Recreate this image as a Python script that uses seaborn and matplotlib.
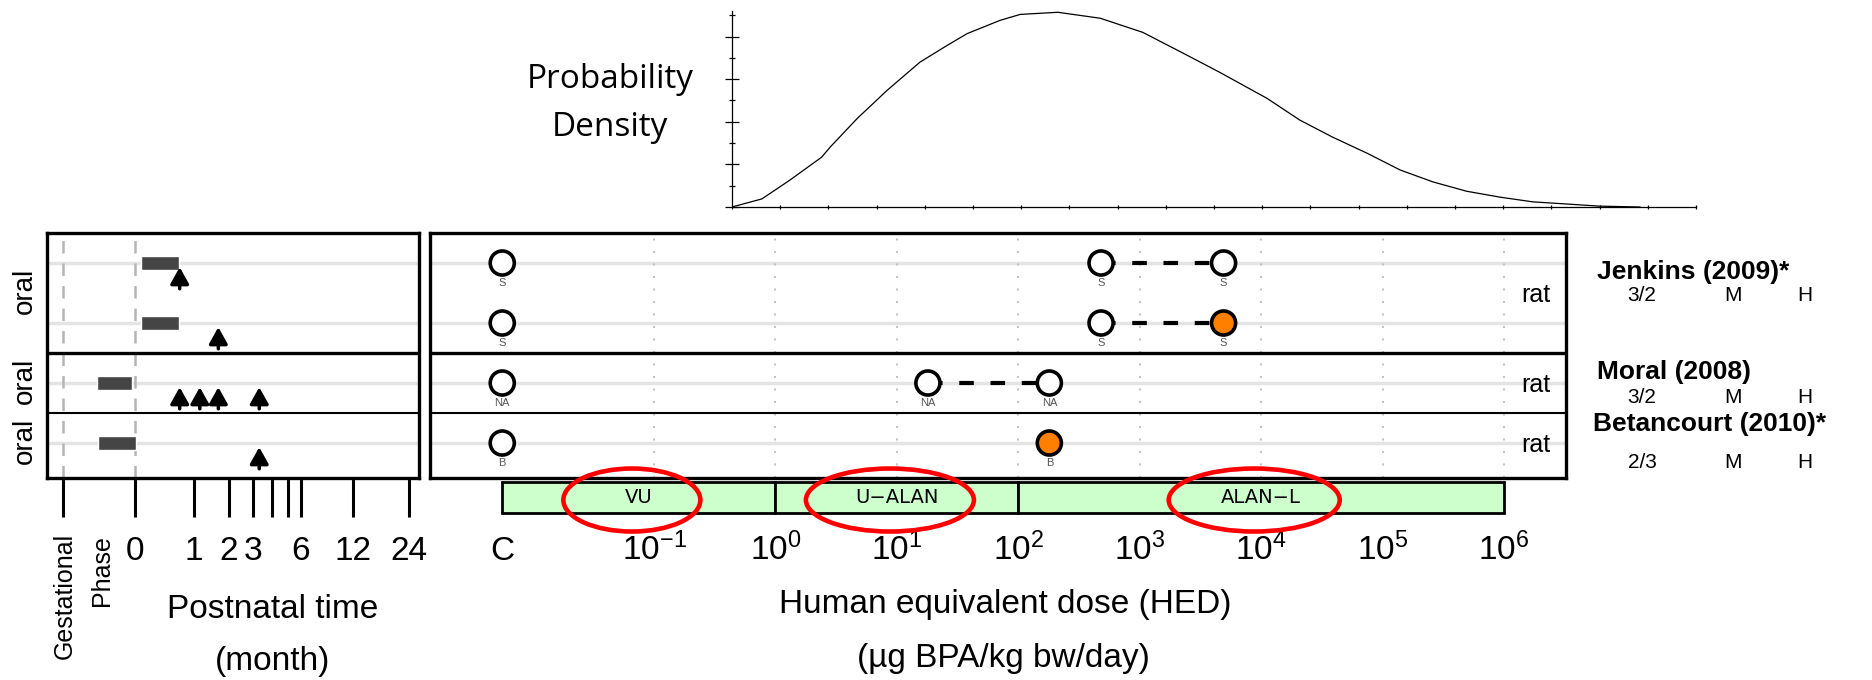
import numpy as np
import pandas as pd
import matplotlib
matplotlib.use('Agg')
import matplotlib.pyplot as plt
from matplotlib.patches import Ellipse
from matplotlib.ticker import NullLocator, MultipleLocator
from matplotlib.transforms import blended_transform_factory
import seaborn as sns

# ---------------- data ----------------
# probability density curve (arbitrary units)
dens_x = [0.0, 0.31, 0.60, 0.93, 1.02, 1.30, 1.61, 1.95, 2.23, 2.44,
          2.78, 2.99, 3.38, 3.82, 4.26, 4.68, 5.06, 5.55, 5.89, 6.23,
          6.59, 6.93, 7.27, 7.62, 7.97, 8.31, 8.66, 9.00, 9.42]
dens_y = [0.0, 0.19, 0.63, 1.17, 1.41, 2.08, 2.74, 3.40, 3.79, 4.07,
          4.38, 4.52, 4.57, 4.43, 4.10, 3.61, 3.16, 2.55, 2.04, 1.64,
          1.26, 0.87, 0.59, 0.37, 0.23, 0.12, 0.07, 0.02, 0.0]

studies = ['Jenkins (2009)*', 'Moral (2008)', 'Betancourt (2010)*']
study_score = [('3/2', 'M', 'H'), ('3/2', 'M', 'H'), ('2/3', 'M', 'H')]
study_rows = [[0, 1], [2], [3]]
species = ['rat', 'rat', 'rat']
route = ['oral', 'oral', 'oral']

# exposure windows in months (negative = gestation)
expo_row = [0, 1, 2, 3]
expo_start = [0.07, 0.07, -0.37, -0.36]
expo_end = [0.68, 0.68, -0.03, 0.01]

# observation times in months
obs_row = [0, 1, 2, 2, 2, 2, 3]
obs_time = [0.69, 1.66, 0.69, 1.14, 1.66, 3.3, 3.3]

# doses (ug BPA/kg bw/day), 'C' = control
dose_row = [0, 0, 0, 1, 1, 1, 2, 2, 2, 3, 3]
dose_val = ['C', 480, 4900, 'C', 480, 4900, 'C', 18, 180, 'C', 180]
dose_effect = [False, False, False, False, False, True,
               False, False, False, False, True]
dose_note = ['S', 'S', 'S', 'S', 'S', 'S', 'NA', 'NA', 'NA', 'B', 'B']
dose_links = [(0, 480, 4900), (1, 480, 4900), (2, 18, 180)]

ranges = ['VU', 'U\u2212ALAN', 'ALAN\u2212L']
range_lo = ['C', 1, 100]
range_hi = [1, 100, 1e6]

time_ticks = [-0.7, 0, 1, 2, 3, 4, 5, 6, 12, 24]
time_labels = ['', '0', '1', '2', '3', '', '', '6', '12', '24']
dose_ticks = ['C', 0.1, 1, 10, 100, 1e3, 1e4, 1e5, 1e6]
dose_labels = ['C', r'$10^{-1}$', r'$10^{0}$', r'$10^{1}$', r'$10^{2}$',
               r'$10^{3}$', r'$10^{4}$', r'$10^{5}$', r'$10^{6}$']

C_POS = 10 ** -2.25      # where the control column sits on the log axis
GEST_K = 1.22 / 0.7      # stretch for the gestational part of the time axis


def cpos(v):
    return C_POS if v == 'C' else v


def t_fwd(t):
    t = np.asarray(t, dtype=float)
    return np.where(t >= 0, np.log2(1 + np.abs(t)), t * GEST_K)


def t_inv(u):
    u = np.asarray(u, dtype=float)
    return np.where(u >= 0, 2 ** np.clip(u, 0, 60) - 1, u / GEST_K)


# ---------------- style ----------------
sns.set_style('white')
plt.rcParams['font.family'] = ['Liberation Sans', 'DejaVu Sans']
plt.rcParams['text.color'] = 'black'
plt.rcParams['xtick.color'] = 'black'
plt.rcParams['ytick.color'] = 'black'
plt.rcParams['mathtext.fontset'] = 'custom'
plt.rcParams['mathtext.rm'] = 'Liberation Sans'
plt.rcParams['mathtext.it'] = 'Liberation Sans:italic'
plt.rcParams['mathtext.bf'] = 'Liberation Sans:bold'
plt.rcParams['mathtext.default'] = 'regular'

W, H = 1872, 680
fig = plt.figure(figsize=(W / 100, H / 100), dpi=100)


def px_axes(x0, y0, x1, y1):
    return fig.add_axes([x0 / W, 1 - y1 / H, (x1 - x0) / W, (y1 - y0) / H])


def fig_text(x, y, s, **kw):
    fig.text(x / W, 1 - y / H, s, **kw)


# ---------------- density panel ----------------
ax_d = px_axes(732, 11, 1696, 207)
sns.lineplot(x=dens_x, y=dens_y, ax=ax_d, color='black', linewidth=0.9, sort=False)
ax_d.set_xlim(0, 10)
ax_d.set_ylim(0, 4.6)
for s in ['top', 'right']:
    ax_d.spines[s].set_visible(False)
for s in ['left', 'bottom']:
    ax_d.spines[s].set_linewidth(0.9)
    ax_d.spines[s].set_color('black')
ax_d.xaxis.set_major_locator(MultipleLocator(1))
ax_d.xaxis.set_minor_locator(MultipleLocator(0.5))
ax_d.yaxis.set_major_locator(MultipleLocator(1))
ax_d.yaxis.set_minor_locator(MultipleLocator(0.5))
ax_d.tick_params(which='major', direction='inout', length=10, width=0.9,
                 labelbottom=False, labelleft=False, bottom=True, left=True)
ax_d.tick_params(which='minor', direction='inout', length=5, width=0.9,
                 bottom=True, left=True)
ax_d.tick_params(axis='x', which='both', length=3)
ax_d.set_xlabel('')
ax_d.set_ylabel('')
ax_d.patch.set_alpha(0)

fig_text(610, 80, 'Probability', ha='center', va='center', fontsize=24,
         family=['Open Sans', 'DejaVu Sans'])
fig_text(610, 128, 'Density', ha='center', va='center', fontsize=24,
         family=['Open Sans', 'DejaVu Sans'])

# ---------------- time panel ----------------
ax_t = px_axes(47, 233, 419, 478)
ax_r = px_axes(430, 233, 1566, 478)

ax_t.set_xscale('function', functions=(t_fwd, t_inv))
ax_t.set_xlim(-0.855, 27.05)
ax_t.set_ylim(3.583, -0.5)

for ax in (ax_t, ax_r):
    for r in range(4):
        ax.axhline(r, color='#e4e4e4', lw=2.5, zorder=0)
    ax.axhline(1.5, color='black', lw=2.4, zorder=4)
    ax.axhline(2.5, color='black', lw=1.5, zorder=4)
    for s in ax.spines.values():
        s.set_linewidth(2.4)
        s.set_color('black')
    ax.set_yticks([])

for t in [-0.7, 0]:
    ax_t.axvline(t, color='#b5b5b5', lw=1.8, ls=(0, (5, 4)), zorder=1)

ax_t.barh(expo_row, [e - s for s, e in zip(expo_start, expo_end)], left=expo_start,
          height=0.22, color='#454545', zorder=3)
for r, t in zip(obs_row, obs_time):
    ax_t.annotate('', xy=(t, r + 0.07), xytext=(t, r + 0.43),
                  arrowprops=dict(arrowstyle='-|>,head_width=0.28,head_length=0.5',
                                  lw=2.5, color='black', shrinkA=0, shrinkB=0,
                                  mutation_scale=20), zorder=4)

ax_t.set_xticks(time_ticks)
ax_t.set_xticklabels(time_labels)
ax_t.xaxis.set_minor_locator(NullLocator())
ax_t.tick_params(axis='x', direction='out', length=28, width=2.2, pad=31,
                 labelsize=24, bottom=True)
for lbl in ax_t.get_xticklabels():
    lbl.set_verticalalignment('baseline')

fig_text(65, 533, 'Gestational', rotation=90, ha='center', va='top', fontsize=18)
fig_text(102, 535, 'Phase', rotation=90, ha='center', va='top', fontsize=18)
fig_text(273, 618, 'Postnatal time', ha='center', va='baseline', fontsize=24)
fig_text(273, 670, '(month)', ha='center', va='baseline', fontsize=24)

trans_oral = blended_transform_factory(fig.transFigure, ax_t.transData)
for rows, rt in zip(study_rows, route):
    ax_t.text(25 / W, np.mean(rows) - 0.03, rt, transform=trans_oral, rotation=90,
              ha='center', va='center', fontsize=20, clip_on=False)

# ---------------- dose panel ----------------
ax_r.set_xscale('log')
ax_r.set_xlim(10 ** -2.845, 10 ** 6.51)
ax_r.set_ylim(3.583, -0.5)
for d in dose_ticks[1:]:
    ax_r.axvline(d, color='#c4c4c4', lw=1.5, ls=(0, (1, 5)), zorder=1)

for r, lo, hi in dose_links:
    ax_r.plot([lo, hi], [r, r], color='black', lw=3, ls=(0, (3.5, 4)), zorder=3)

df = pd.DataFrame({'row': dose_row, 'dose': [cpos(v) for v in dose_val],
                   'effect': dose_effect, 'note': dose_note})
sns.scatterplot(data=df, x='dose', y='row', hue='effect',
                palette={False: 'white', True: '#ff8000'}, s=300,
                edgecolor='black', linewidth=2.6, legend=False, ax=ax_r, zorder=5)
for _, p in df.iterrows():
    ax_r.text(p['dose'], p['row'] + 0.33, p['note'], ha='center', va='center',
              fontsize=8, color='#555555', zorder=6)

ax_r.set_xlabel('')
ax_r.set_ylabel('')
ax_r.set_ylim(3.583, -0.5)
ax_r.set_xlim(10 ** -2.845, 10 ** 6.51)
ax_r.set_xticks([cpos(v) for v in dose_ticks])
ax_r.set_xticklabels(dose_labels)
ax_r.xaxis.set_minor_locator(NullLocator())
ax_r.tick_params(axis='x', length=0, pad=59, labelsize=24)
for lbl in ax_r.get_xticklabels():
    lbl.set_verticalalignment('baseline')

trans_rat = blended_transform_factory(ax_r.transAxes, ax_r.transData)
for rows, sp in zip(study_rows, species):
    ax_r.text(0.973, np.mean(rows) + 0.03, sp, transform=trans_rat,
              ha='center', va='center', fontsize=18)

# range boxes under the dose axis
lo_v = [cpos(v) for v in range_lo]
ax_r.barh([3.908] * 3, [h - l for l, h in zip(lo_v, range_hi)], left=lo_v,
          height=0.517, color='#ccffcc', edgecolor='black', linewidth=2, clip_on=False)
ell_w = [137, 168, 171]
for name, l, h, ew in zip(ranges, lo_v, range_hi, ell_w):
    xm = np.sqrt(l * h)
    ax_r.text(xm, 3.9, name, ha='center', va='center', fontsize=14,
              family=['DejaVu Sans'], clip_on=False)
    cx, cy = ax_r.transData.transform((xm, 3.95))
    fig.add_artist(Ellipse(((cx - 7) / W, cy / H), ew / W, 63 / H,
                           transform=fig.transFigure, fill=False,
                           edgecolor='#ff0000', linewidth=3.3, zorder=10))

fig_text(1005, 613, 'Human equivalent dose (HED)', ha='center', va='baseline', fontsize=24)
fig_text(1003, 667, '(\u00b5g BPA/kg bw/day)', ha='center', va='baseline', fontsize=24)

# ---------------- study labels ----------------
name_x = [1597, 1597, 1593]
name_y = [279, 379, 431]
score_y = [301, 403, 468]
score_x = [1642, 1733, 1805]
for name, nx, ny, sy, sc in zip(studies, name_x, name_y, score_y, study_score):
    fig_text(nx, ny, name, ha='left', va='baseline', fontsize=19, fontweight='bold')
    for x, s in zip(score_x, sc):
        fig_text(x, sy, s, ha='center', va='baseline', fontsize=15)

fig.savefig('out.png', dpi=100)
